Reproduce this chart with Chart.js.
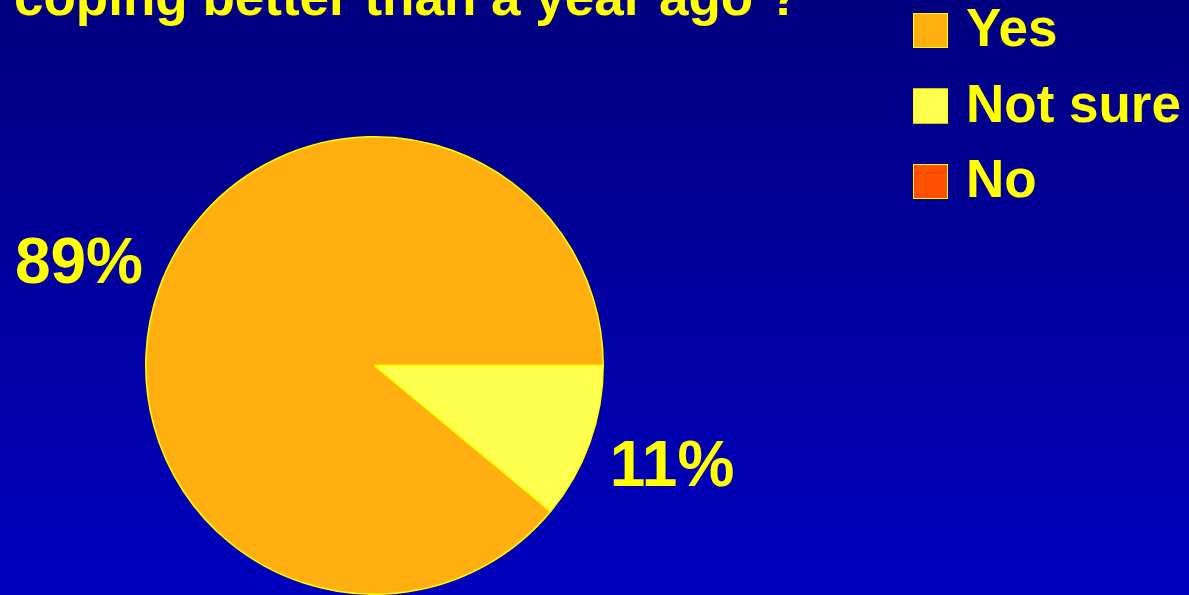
<!DOCTYPE html>
<html><head><meta charset="utf-8">
<script src="https://cdn.jsdelivr.net/npm/chart.js@4/dist/chart.umd.min.js"></script>
<style>
html,body{margin:0;padding:0;background:#000080;overflow:hidden}
#wrap{width:1189px;height:595px;position:relative}
canvas{display:block}
</style>
</head><body>
<div id="wrap"><canvas id="c" width="1189" height="595"></canvas></div>
<script>
const titleText = 'coping better than a year ago ?';
const categories = ['Yes', 'Not sure', 'No'];
const values = [89, 11, 0];
const valueLabels = ['89%', '11%', ''];
const colors = ['#FFB010', '#FFFF4D', '#FF5000'];

const FONT = '"Liberation Sans", Arial, Helvetica, sans-serif';
const total = values.reduce((a, b) => a + b, 0);

const decor = {
  id: 'decor',
  beforeDraw(chart) {
    const ctx = chart.ctx;
    const g = ctx.createLinearGradient(0, 0, 0, chart.height);
    g.addColorStop(0, '#000080');
    g.addColorStop(1, '#0000BE');
    ctx.save();
    ctx.fillStyle = g;
    ctx.fillRect(0, 0, chart.width, chart.height);
    ctx.restore();
  },
  afterDraw(chart) {
    const ctx = chart.ctx;
    ctx.save();
    // title (partly cut off at top)
    ctx.fillStyle = '#FFFF00';
    ctx.font = 'bold 53px ' + FONT;
    ctx.textAlign = 'left';
    ctx.textBaseline = 'alphabetic';
    ctx.fillText(titleText, 14, 15);

    // legend
    const ds = chart.data.datasets[0];
    chart.data.labels.forEach((lab, i) => {
      const cy = 30.5 + i * 75.5;
      ctx.fillStyle = ds.backgroundColor[i];
      ctx.fillRect(913, cy - 17.5, 35, 35);
      ctx.strokeStyle = '#FFFF00';
      ctx.lineWidth = 1;
      ctx.strokeRect(913.5, cy - 17, 34, 34);
      ctx.fillStyle = '#FFFF00';
      ctx.font = 'bold 53px ' + FONT;
      ctx.textBaseline = 'middle';
      ctx.textAlign = 'left';
      ctx.fillText(lab, 966, cy + 1);
    });

    // percentage labels outside the slices, near their bisectors
    const meta = chart.getDatasetMeta(0);
    meta.data.forEach((el, i) => {
      if (!valueLabels[i]) return;
      const mid = (el.startAngle + el.endAngle) / 2 - 0.016;
      const r = el.outerRadius * 1.37;
      const x = el.x + Math.cos(mid) * r;
      const y = el.y + Math.sin(mid) * r;
      ctx.fillStyle = '#FFFF00';
      ctx.font = 'bold 64px ' + FONT;
      ctx.textAlign = 'center';
      ctx.textBaseline = 'middle';
      ctx.fillText(valueLabels[i], x + 1, y + 1);
    });
    ctx.restore();
  }
};

new Chart(document.getElementById('c'), {
  type: 'pie',
  data: {
    labels: categories,
    datasets: [{
      data: values,
      backgroundColor: colors,
      borderColor: '#FFFF00',
      borderWidth: 1.5
    }]
  },
  options: {
    responsive: false,
    animation: false,
    events: [],
    rotation: 90 + 360 * (1 - values[0] / total),
    layout: { padding: { left: 145, top: 136, right: 585, bottom: 0 } },
    plugins: {
      legend: { display: false },
      title: { display: false },
      tooltip: { enabled: false }
    }
  },
  plugins: [decor]
});
</script>
</body></html>
